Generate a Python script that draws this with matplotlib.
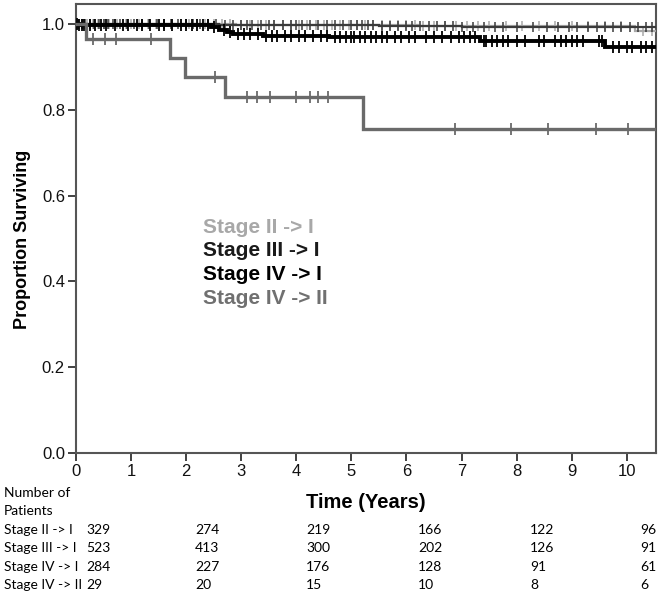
import matplotlib
matplotlib.use("Agg")
import matplotlib.pyplot as plt
import numpy as np

# ---------------- data ----------------
groups = ["Stage II -> I", "Stage III -> I", "Stage IV -> I", "Stage IV -> II"]
colors = ["#a8a8a8", "#3a3a3a", "#000000", "#6a6a6a"]
legend_colors = ["#a8a8a8", "#1a1a1a", "#000000", "#707070"]

# step survival curves (event times, survival after event)
s2i_t = [0.0, 2.9, 6.2, 10.15]
s2i_s = [1.0, 0.998, 0.996, 0.984]
s3i_t = [0.0, 2.6, 5.5, 7.0]
s3i_s = [1.0, 0.997, 0.995, 0.994]
s4i_t = [0.0, 0.05, 2.45, 2.6, 2.75, 2.85, 3.4, 4.6, 7.33, 9.6]
s4i_s = [1.0, 0.997, 0.993, 0.986, 0.981, 0.976, 0.973, 0.970, 0.960, 0.946]
s4ii_t = [0.0, 0.18, 1.71, 1.98, 2.70, 5.21]
s4ii_s = [1.0, 0.964, 0.920, 0.876, 0.830, 0.755]

c2i = [0.05, 0.12, 0.2, 0.3, 0.4, 0.5, 0.6, 0.75, 0.9, 1.0, 1.15, 1.3, 1.45, 1.6, 1.75,
       1.9, 2.05, 2.2, 2.35, 2.5, 2.65, 2.8, 3.0, 3.15, 3.3, 3.45, 3.6, 3.75, 3.9, 4.05,
       4.2, 4.35, 4.5, 4.65, 4.8, 4.95, 5.1, 5.25, 5.4, 5.55, 5.7, 5.85, 6.0, 6.15,
       6.3, 6.5, 6.7, 6.9, 7.1, 7.3, 7.5, 7.8, 8.1, 8.4, 8.7, 9.0, 9.3, 9.6, 9.9, 10.3, 10.45]
c3i = [0.03, 0.1, 0.17, 0.25, 0.33, 0.42, 0.5, 0.58, 0.67, 0.8, 0.92, 1.05, 1.2, 1.33,
       1.47, 1.6, 1.72, 1.85, 2.0, 2.12, 2.25, 2.4, 2.55, 2.7, 2.85, 3.0, 3.1, 3.2, 3.35,
       3.5, 3.6, 3.75, 3.9, 4.0, 4.1, 4.25, 4.4, 4.55, 4.7, 4.85, 5.0, 5.1, 5.2, 5.3, 5.4,
       5.55, 5.7, 5.85, 6.0, 6.1, 6.25, 6.4, 6.55, 6.7, 6.85, 7.0, 7.2, 7.4, 7.6, 7.75,
       8.0, 8.3, 8.55, 8.75, 8.95, 9.1, 9.3, 9.45, 9.6, 9.75, 9.9, 10.05, 10.2, 10.35, 10.45]
c4i = [0.02, 0.06, 0.1, 0.15, 0.25, 0.35, 0.45, 0.55, 0.7, 0.85, 0.95, 1.1, 1.2, 1.35,
       1.5, 1.6, 1.75, 1.9, 2.0, 2.1, 2.2, 2.3, 2.4, 2.5, 2.68, 2.8, 2.95, 3.05, 3.15,
       3.3, 3.45, 3.55, 3.65, 3.8, 3.9, 4.05, 4.15, 4.3, 4.45, 4.55, 4.7, 4.8, 4.9, 5.0,
       5.05, 5.15, 5.25, 5.35, 5.45, 5.55, 5.65, 5.8, 5.9, 6.05, 6.15, 6.35, 6.5, 6.65,
       6.8, 6.95, 7.05, 7.15, 7.25, 7.4, 7.45, 7.55, 7.65, 7.75, 7.85, 8.0, 8.15, 8.4,
       8.5, 8.7, 8.8, 8.9, 9.0, 9.1, 9.2, 9.5, 9.55, 9.75, 9.85, 10.0, 10.1, 10.25, 10.35, 10.45]
c4ii = [0.31, 0.53, 0.73, 1.36, 2.53, 3.10, 3.28, 3.53, 3.99, 4.25, 4.40, 4.58,
        6.88, 7.89, 8.57, 9.44, 10.02]

# number at risk table
risk_times = [0, 2, 4, 6, 8, 10]
risk_2i = [329, 274, 219, 166, 122, 96]
risk_3i = [523, 413, 300, 202, 126, 91]
risk_4i = [284, 227, 176, 128, 91, 61]
risk_4ii = [29, 20, 15, 10, 8, 6]
risk_labels = ["Stage II -> I", "Stage III -> I", "Stage IV -> I", "Stage IV -> II"]

x_ticks = list(range(0, 11))
y_ticks = [0.0, 0.2, 0.4, 0.6, 0.8, 1.0]
x_max = 10.53

# ---------------- plot ----------------
W, H = 660, 597
fig = plt.figure(figsize=(W / 100, H / 100), dpi=100)
ax = fig.add_axes([76 / W, (H - 453) / H, (656 - 76) / W, (453 - 4) / H])

curves = [(s2i_t, s2i_s, c2i, 1.6), (s3i_t, s3i_s, c3i, 1.6),
          (s4i_t, s4i_s, c4i, 2.8), (s4ii_t, s4ii_s, c4ii, 2.4)]

def surv_at(t, times, surv):
    idx = np.searchsorted(times, t, side="right") - 1
    return np.asarray(surv)[idx]

for (t, s, c, lw), col in zip(curves, colors):
    tt = list(t) + [x_max]
    ss = list(s) + [s[-1]]
    ax.step(tt, ss, where="post", color=col, lw=lw, solid_joinstyle="miter", zorder=3)
    cy = [surv_at(ci, t, s) for ci in c]
    ax.plot(c, cy, linestyle="none", marker="|", markersize=8 if lw > 2 else 7,
            markeredgewidth=1.3 if lw > 2 else 1.1, color=col, zorder=3)

ax.set_xlim(0, x_max)
ax.set_ylim(0, (453 - 4) / 429)
ax.set_xticks(x_ticks)
ax.set_yticks(y_ticks)
ax.set_xticklabels([str(v) for v in x_ticks])
ax.set_yticklabels([f"{v:.1f}" for v in y_ticks])
for sp in ax.spines.values():
    sp.set_color("#555555")
    sp.set_linewidth(1.5)
ax.tick_params(direction="out", length=6, width=1.3, color="#333333",
               labelsize=12, labelcolor="#111111", pad=2)
for lbl in ax.get_xticklabels() + ax.get_yticklabels():
    lbl.set_family("Liberation Sans")

ax.set_xlabel("Time (Years)", family="Liberation Sans", fontweight="bold",
              fontsize=14.5, labelpad=10)
ax.set_ylabel("Proportion Surviving", family="Liberation Sans", fontweight="bold",
              fontsize=13)
ax.yaxis.set_label_coords(-0.078, 0.475)

# legend texts
leg_y = [227, 251, 275, 299]
for lab, col, yy in zip(groups, legend_colors, leg_y):
    fig.text(203 / W, 1 - yy / H, lab, color=col, family="Liberation Sans",
             fontweight="bold", fontsize=15, ha="left", va="center")

# number at risk
fs = 10
fig.text(4 / W, 1 - 493 / H, "Number of", family="Lato", fontsize=fs, va="center")
fig.text(4 / W, 1 - 511 / H, "Patients", family="Lato", fontsize=fs, va="center")
row_y = [530, 548, 567, 585]
col_x = [86, 195, 306, 418, 530, 640]
for lab, vals, yy in zip(risk_labels, [risk_2i, risk_3i, risk_4i, risk_4ii], row_y):
    fig.text(4 / W, 1 - yy / H, lab, family="Lato", fontsize=fs, va="center")
    for xx, v in zip(col_x, vals):
        fig.text(xx / W, 1 - yy / H, str(v), family="Lato", fontsize=fs, va="center")

fig.savefig("out.png", dpi=100)
